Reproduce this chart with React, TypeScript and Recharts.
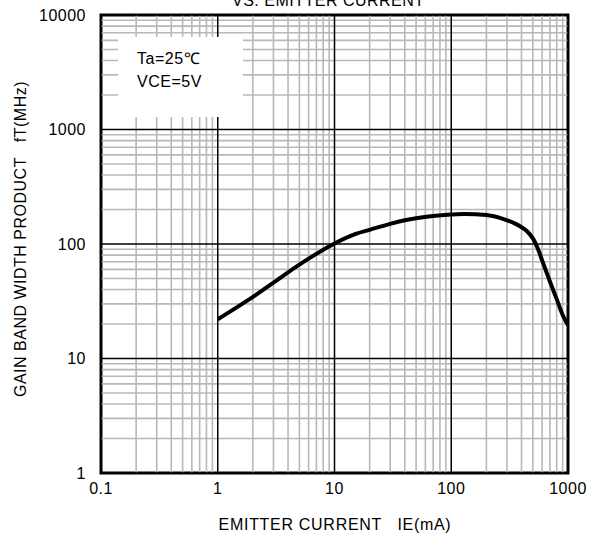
import { LineChart, Line, XAxis, YAxis, ReferenceLine, ReferenceArea } from 'recharts';

const emitterCurrent = [1, 1.5, 2, 3, 5, 7, 10, 15, 20, 30, 40, 50, 70, 100, 130, 200, 300, 400, 450, 500, 550, 600, 700, 800, 900, 1000];
const gainBandwidth = [22, 28.5, 34.5, 46, 66, 82, 101, 122, 133, 150, 161, 168, 176, 181, 183, 179, 161, 140, 128, 112, 92, 72, 47, 33, 24, 19.5];

const xTicks = [0.1, 1, 10, 100, 1000];
const yTicks = [1, 10, 100, 1000, 10000];
const xDecades = [0.1, 1, 10, 100];
const yDecades = [1, 10, 100, 1000];
const minorSteps = [2, 3, 4, 5, 6, 7, 8, 9];

const xMinor = xDecades.flatMap((d) => minorSteps.map((m) => +(d * m).toPrecision(3)));
const yMinor = yDecades.flatMap((d) => minorSteps.map((m) => +(d * m).toPrecision(3)));

const data = emitterCurrent.map((x, i) => ({ x, y: gainBandwidth[i] }));

const font = '"Liberation Sans", Arial, sans-serif';
const textStyle = { fontSize: 16, letterSpacing: 0.5, whiteSpace: 'nowrap' as const };

export default function App() {
  return (
    <div style={{ position: 'absolute', left: 0, top: 0, width: 597, height: 537, background: '#fff', fontFamily: font, color: '#000' }}>
      <LineChart width={597} height={537} data={data} margin={{ top: 15, right: 29, bottom: 34, left: 31 }}>
        <XAxis
          dataKey="x"
          type="number"
          scale="log"
          domain={[0.1, 1000]}
          ticks={xTicks}
          allowDataOverflow
          height={30}
          tickLine={false}
          axisLine={false}
          tickSize={0}
          tickMargin={10}
          tick={{ fill: '#000', fontSize: 16, fontFamily: font, letterSpacing: 0.5 }}
        />
        <YAxis
          dataKey="y"
          type="number"
          scale="log"
          domain={[1, 10000]}
          ticks={yTicks}
          allowDataOverflow
          width={70}
          tickLine={false}
          axisLine={false}
          tickSize={0}
          tickMargin={15}
          tick={{ fill: '#000', fontSize: 16, fontFamily: font, letterSpacing: 0.5 }}
        />
        {xMinor.map((v) => (
          <ReferenceLine key={`xm-${v}`} x={v} stroke="#b8b8b8" strokeWidth={1.6} />
        ))}
        {yMinor.map((v) => (
          <ReferenceLine key={`ym-${v}`} y={v} stroke="#b8b8b8" strokeWidth={1.6} />
        ))}
        {xTicks.map((v) => (
          <ReferenceLine key={`xM-${v}`} x={v} stroke="#000" strokeWidth={1.5} />
        ))}
        {yTicks.map((v) => (
          <ReferenceLine key={`yM-${v}`} y={v} stroke="#000" strokeWidth={1.5} />
        ))}
        <ReferenceArea x1={0.1} x2={1000} y1={1} y2={10000} fill="none" fillOpacity={0} stroke="#000" strokeWidth={3} ifOverflow="visible" />
        <Line type="monotone" dataKey="y" stroke="#000" strokeWidth={4} dot={false} isAnimationActive={false} />
      </LineChart>

      <div style={{ ...textStyle, position: 'absolute', left: 232, top: -8 }}>VS. EMITTER CURRENT</div>

      <div style={{ position: 'absolute', left: 118, top: 37, width: 125, height: 80, background: '#fff' }}>
        <div style={{ ...textStyle, position: 'absolute', left: 19, top: 10 }}>Ta=25℃</div>
        <div style={{ ...textStyle, position: 'absolute', left: 19, top: 36 }}>VCE=5V</div>
      </div>

      <div
        style={{
          ...textStyle,
          position: 'absolute',
          left: 21,
          top: 239,
          transform: 'translate(-50%, -50%) rotate(-90deg)',
        }}
      >
        GAIN BAND WIDTH PRODUCT&nbsp;&nbsp;&nbsp;fT(MHz)
      </div>

      <div style={{ ...textStyle, position: 'absolute', left: 335, top: 516, transform: 'translateX(-50%)', letterSpacing: 0.7 }}>
        EMITTER CURRENT&nbsp;&nbsp;&nbsp;IE(mA)
      </div>
    </div>
  );
}
